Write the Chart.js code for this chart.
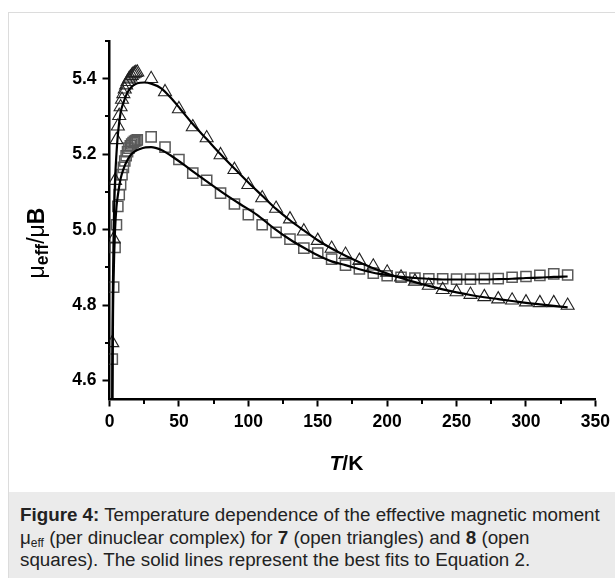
<!DOCTYPE html>
<html>
<head>
<meta charset="utf-8">
<script src="https://cdn.jsdelivr.net/npm/chart.js@4.4.1/dist/chart.umd.min.js"></script>
<style>
  html, body { margin: 0; padding: 0; background: #fff; }
  body { width: 615px; height: 578px; position: relative; overflow: hidden; font-family: "Liberation Sans", Arial, sans-serif; }
  #frame { position: absolute; left: 8px; top: 12px; width: 620px; height: 580px; border-left: 1px solid #dcdcdc; border-top: 1px solid #dcdcdc; }
  #wrap { position: absolute; left: 0; top: 0; width: 615px; height: 490px; }
  #caption { position: absolute; left: 9px; top: 492px; width: 606px; height: 86px; background: #ebebeb; color: #222;
             font-size: 18.8px; line-height: 22.5px; padding: 12px 0 0 11px; box-sizing: border-box; white-space: nowrap; }
  #caption sub { font-size: 12px; vertical-align: -3px; line-height: 0; }
</style>
</head>
<body>
<div id="frame"></div>
<div id="wrap"><canvas id="c" width="615" height="490"></canvas></div>
<div id="caption"><b>Figure 4:</b> Temperature dependence of the effective magnetic moment<br>μ<sub>eff</sub> (per dinuclear complex) for <b>7</b> (open triangles) and <b>8</b> (open<br>squares). The solid lines represent the best fits to Equation 2.</div>
<script>
// ---- data ----
const T7  = [2,3,4,5,6,7,8,9,10,11,12,13,14,15,16,17,18,19,20,
             30,40,50,60,70,80,90,100,110,120,130,140,150,160,170,180,190,200,210,220,230,240,250,260,270,280,290,300,310,320,330];
const MU7 = [4.700,4.975,5.130,5.238,5.274,5.302,5.325,5.345,5.360,5.372,5.383,5.392,5.399,5.404,5.408,5.412,5.414,5.416,5.417,
             5.400,5.365,5.320,5.272,5.243,5.198,5.159,5.119,5.084,5.056,5.028,4.996,4.971,4.950,4.934,4.918,4.903,4.887,4.874,4.863,4.852,4.841,4.835,4.828,4.822,4.816,4.813,4.808,4.806,4.806,4.799];
const T8  = [2,3,4,5,6,7,8,9,10,11,12,13,14,15,16,17,18,19,20,
             30,40,50,60,70,80,90,100,110,120,130,140,150,160,170,180,190,200,210,220,230,240,250,260,270,280,290,300,310,320,330];
const MU8 = [4.657,4.848,4.953,5.013,5.062,5.093,5.119,5.146,5.165,5.182,5.196,5.207,5.216,5.222,5.227,5.231,5.234,5.236,5.238,
             5.246,5.219,5.186,5.150,5.131,5.097,5.068,5.040,5.013,4.993,4.975,4.951,4.938,4.922,4.906,4.896,4.885,4.878,4.874,4.872,4.870,4.870,4.869,4.869,4.8705,4.8705,4.874,4.876,4.879,4.883,4.880];
const FIT_T7  = [1.9,2,2.5,3,4,5,6,8,10,12,15,20,25,30,37,44,51,60,70,80,90,100,110,120,130,140,150,160,170,180,190,200,210,220,230,240,250,260,270,280,290,300,310,320,330];
const FIT_MU7 = [4.50,4.64,4.86,5.00,5.13,5.20,5.25,5.31,5.336,5.356,5.375,5.388,5.390,5.387,5.375,5.350,5.320,5.280,5.240,5.200,5.162,5.125,5.090,5.055,5.025,4.998,4.972,4.950,4.931,4.914,4.898,4.884,4.872,4.861,4.851,4.842,4.834,4.827,4.821,4.816,4.811,4.806,4.802,4.798,4.794];
const FIT_T8  = [2.0,2.2,2.5,3,4,5,6,7,8,10,12,15,18,22,26,30,37,46,58,70,82,94,106,118,130,140,150,160,170,180,190,200,210,220,230,240,250,260,270,280,290,300,310,320,330];
const FIT_MU8 = [4.50,4.58,4.76,4.88,5.00,5.06,5.09,5.115,5.135,5.160,5.178,5.197,5.207,5.214,5.218,5.219,5.212,5.192,5.160,5.128,5.097,5.068,5.040,5.005,4.974,4.952,4.932,4.916,4.906,4.895,4.886,4.880,4.875,4.872,4.870,4.868,4.868,4.868,4.868,4.869,4.870,4.872,4.873,4.875,4.876];
const X_TICKS = [0,50,100,150,200,250,300,350];
const X_MINOR = [25,75,125,175,225,275,325];
const Y_TICKS = [4.6,4.8,5.0,5.2,5.4];
const Y_MINOR = [4.7,4.9,5.1,5.3,5.5];

const pts = (xs, ys) => xs.map((x, i) => ({ x: x, y: ys[i] }));

const CH_LEFT = 109.5, CH_RIGHT = 595.5, CH_TOP = 41, CH_BOTTOM = 399.5, CANVAS_H = 490;

const extras = {
  id: 'extras',
  afterDraw(chart) {
    const ctx = chart.ctx, xs = chart.scales.x, ys = chart.scales.y;
    ctx.save();
    ctx.strokeStyle = '#000';
    ctx.lineWidth = 2;
    X_MINOR.forEach(v => {
      const p = Math.round(xs.getPixelForValue(v));
      ctx.beginPath(); ctx.moveTo(p, xs.top); ctx.lineTo(p, xs.top + 4.5); ctx.stroke();
    });
    Y_MINOR.forEach(v => {
      const p = Math.round(ys.getPixelForValue(v));
      ctx.beginPath(); ctx.moveTo(ys.right, p); ctx.lineTo(ys.right - 4.5, p); ctx.stroke();
    });
    // x title  "T/K"
    ctx.fillStyle = '#000';
    ctx.textBaseline = 'alphabetic';
    const cx = (xs.left + xs.right) / 2 - 6;
    ctx.font = 'italic bold 21px "Liberation Sans", Arial';
    const wT = ctx.measureText('T').width;
    ctx.font = 'bold 21px "Liberation Sans", Arial';
    const wK = ctx.measureText('/K').width;
    let x0 = cx - (wT + wK) / 2;
    ctx.font = 'italic bold 21px "Liberation Sans", Arial';
    ctx.fillText('T', x0, 470);
    ctx.font = 'bold 21px "Liberation Sans", Arial';
    ctx.fillText('/K', x0 + wT, 470);
    // y title  "μeff/μB"
    const segs = [
      { t: 'μ', f: '23px "Liberation Sans", Arial', dy: 0 },
      { t: 'eff', f: 'bold 17.5px "Liberation Sans", Arial', dy: 4 },
      { t: '/μ', f: '23px "Liberation Sans", Arial', dy: 0 },
      { t: 'B', f: 'bold 23px "Liberation Sans", Arial', dy: 0 }
    ];
    let total = 0;
    segs.forEach(s => { ctx.font = s.f; s.w = ctx.measureText(s.t).width; total += s.w; });
    ctx.translate(44, 243);
    ctx.rotate(-Math.PI / 2);
    let sx = -total / 2;
    segs.forEach(s => { ctx.font = s.f; ctx.fillText(s.t, sx, s.dy); sx += s.w; });
    ctx.restore();
  }
};

new Chart(document.getElementById('c'), {
  type: 'scatter',
  data: {
    datasets: [
      { label: 'fit 7', data: pts(FIT_T7, FIT_MU7), showLine: true, pointRadius: 0, borderColor: '#000', borderWidth: 2.2, cubicInterpolationMode: 'monotone', order: 0 },
      { label: 'fit 8', data: pts(FIT_T8, FIT_MU8), showLine: true, pointRadius: 0, borderColor: '#000', borderWidth: 2.2, cubicInterpolationMode: 'monotone', order: 0 },
      { label: '7', data: pts(T7, MU7), pointStyle: 'triangle', pointRadius: 7.5, pointBorderWidth: 1.1, borderColor: '#222', backgroundColor: 'rgba(0,0,0,0)', order: 1 },
      { label: '8', data: pts(T8, MU8), pointStyle: 'rect', pointRadius: 7.2, pointBorderWidth: 1.5, borderColor: '#5a5a5a', backgroundColor: 'rgba(0,0,0,0)', order: 1 }
    ]
  },
  options: {
    responsive: false,
    animation: false,
    events: [],
    layout: { padding: { left: 0, top: CH_TOP, right: 615 - CH_RIGHT, bottom: 0 } },
    plugins: { legend: { display: false }, tooltip: { enabled: false } },
    scales: {
      x: {
        type: 'linear', min: 0, max: 350,
        afterBuildTicks: s => { s.ticks = X_TICKS.map(v => ({ value: v })); },
        afterFit: s => { s.height = CANVAS_H - CH_BOTTOM; },
        ticks: { color: '#000', font: { family: '"Liberation Sans", Arial', size: 17.5, weight: 'bold' }, padding: 5, maxRotation: 0, autoSkip: false },
        grid: { drawOnChartArea: false, drawTicks: true, tickLength: 7, tickColor: '#000', tickWidth: 2 },
        border: { display: true, color: '#000', width: 2.5 }
      },
      y: {
        type: 'linear', min: 4.55, max: 5.5,
        afterBuildTicks: s => { s.ticks = Y_TICKS.map(v => ({ value: v })); },
        afterFit: s => { s.width = CH_LEFT; },
        ticks: { color: '#000', font: { family: '"Liberation Sans", Arial', size: 17.5, weight: 'bold' }, padding: 6, callback: v => v.toFixed(1), autoSkip: false },
        grid: { drawOnChartArea: false, drawTicks: true, tickLength: 7, tickColor: '#000', tickWidth: 2 },
        border: { display: true, color: '#000', width: 2.5 }
      }
    }
  },
  plugins: [extras]
});
</script>
</body>
</html>
